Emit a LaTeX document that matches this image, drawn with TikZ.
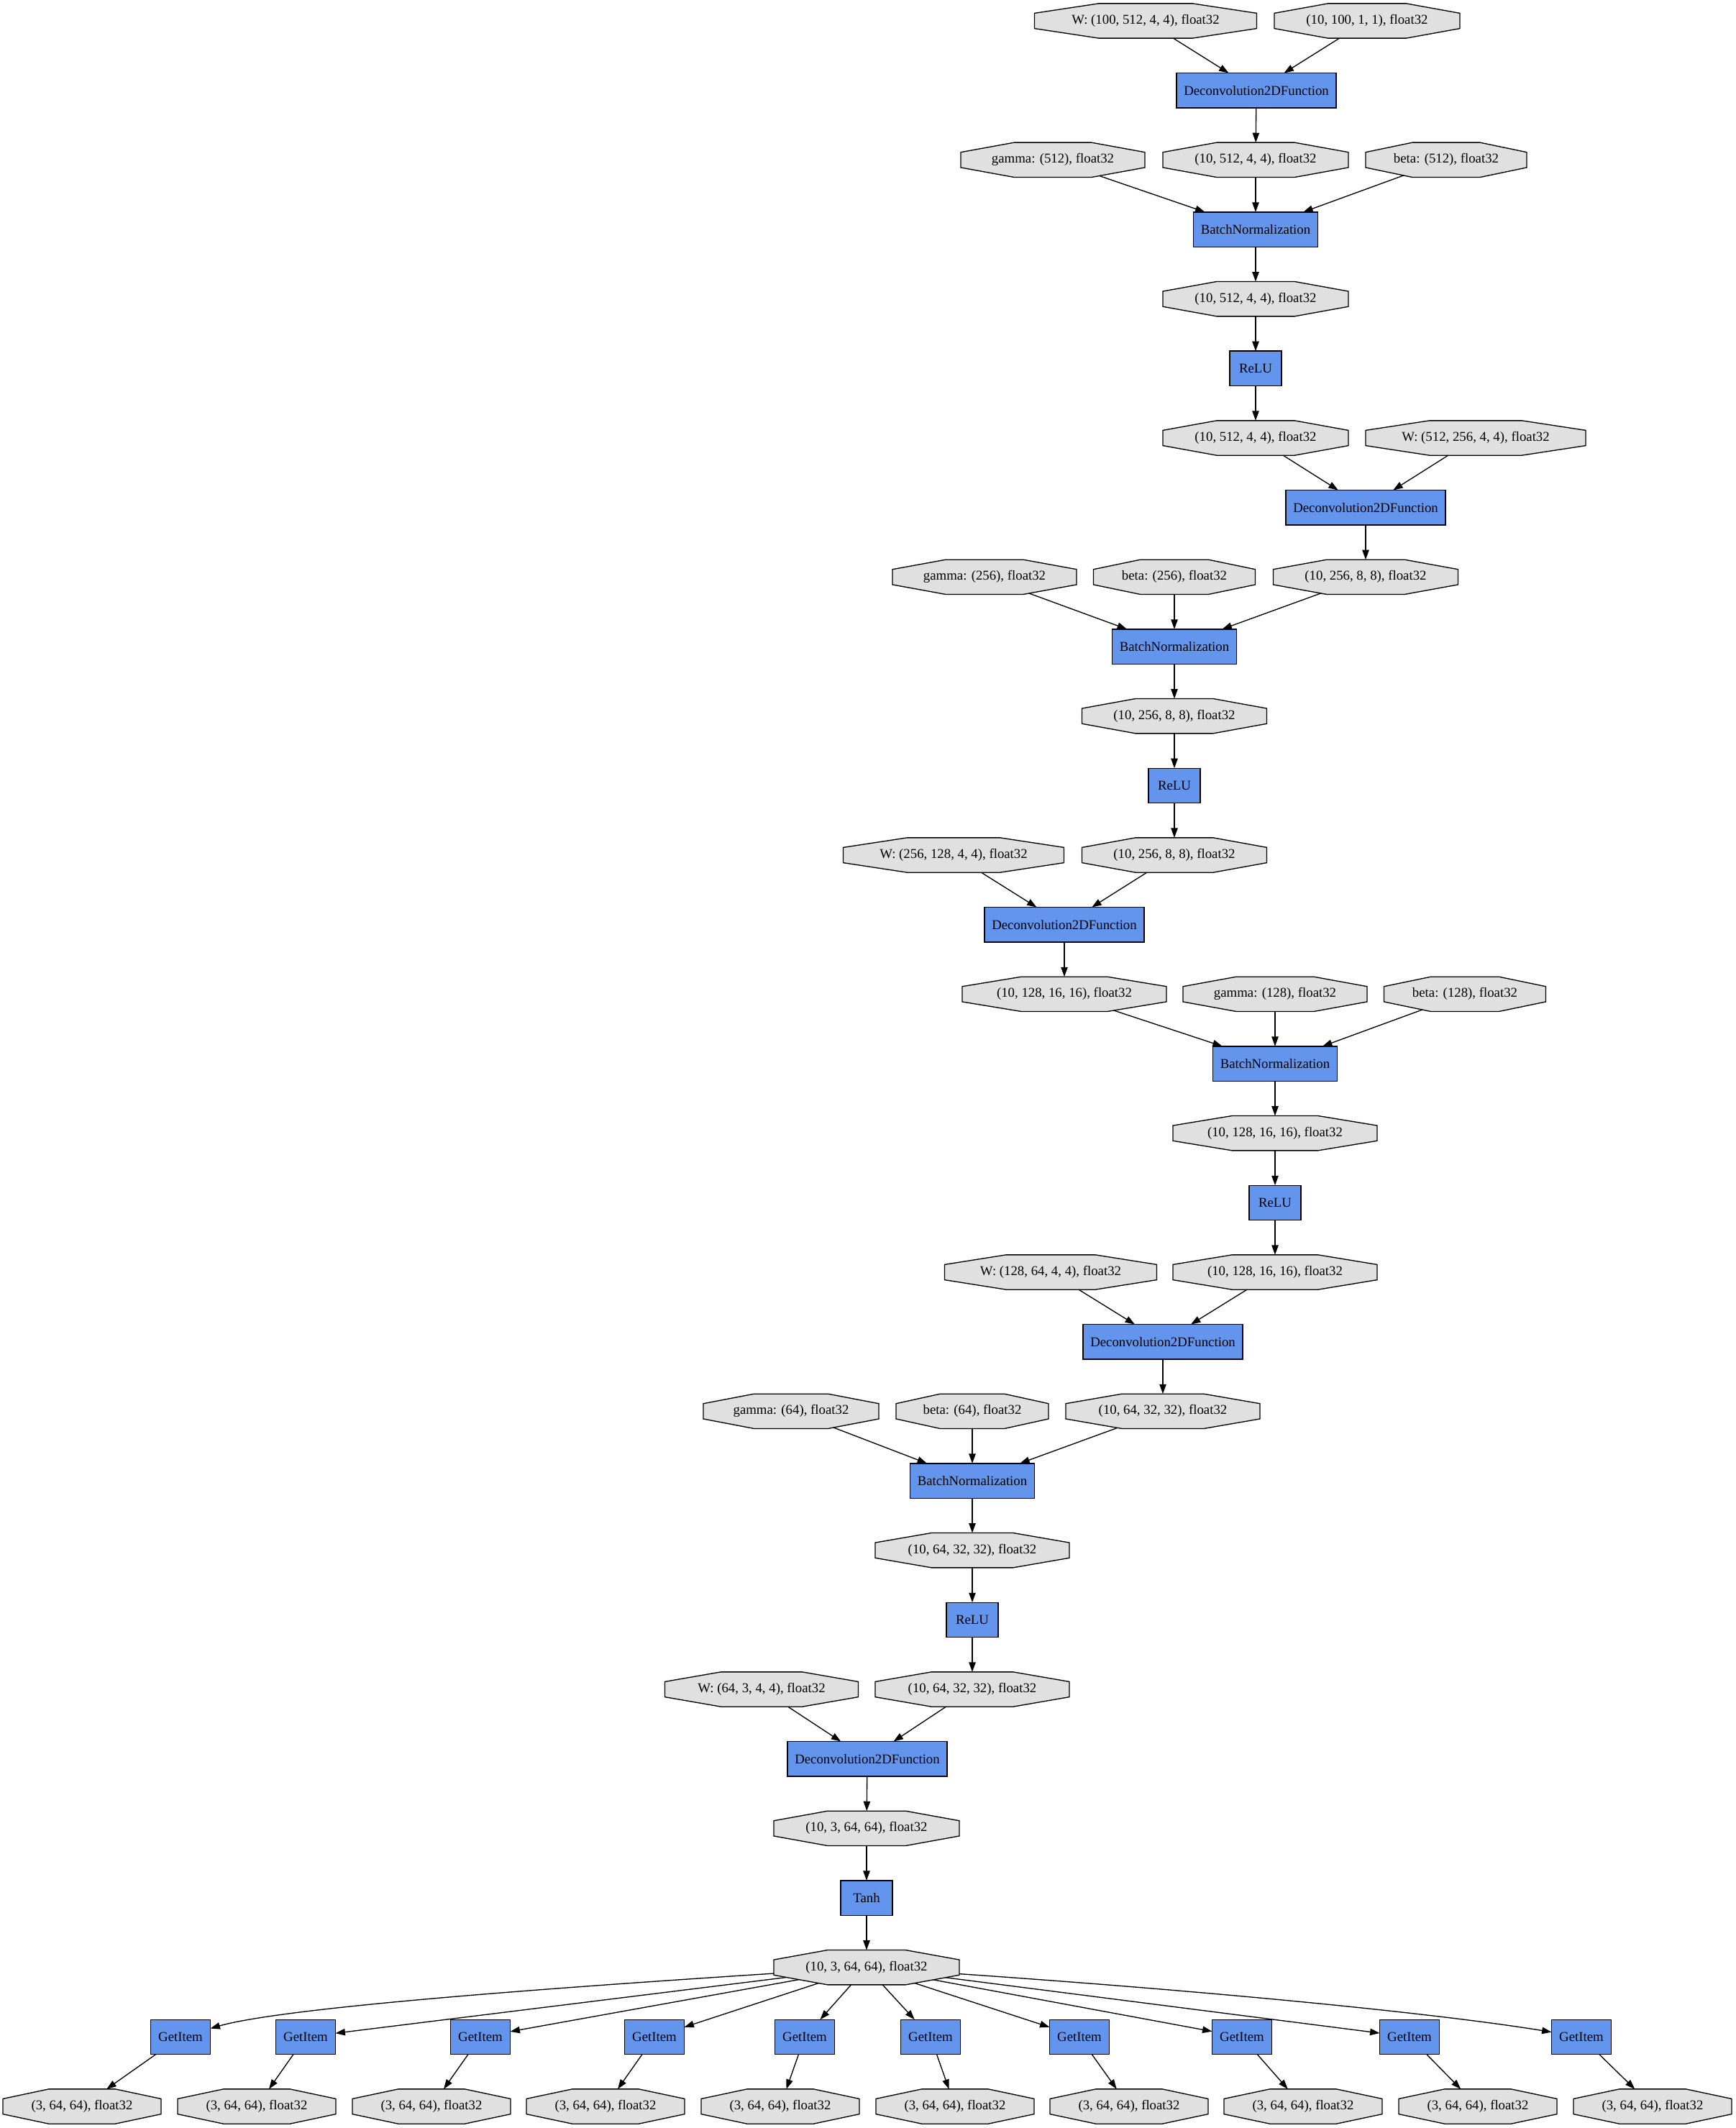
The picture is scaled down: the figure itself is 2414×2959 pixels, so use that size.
\documentclass[tikz,border=0pt]{standalone}
\usepackage{fontspec}
\setmainfont{Liberation Serif}
\usetikzlibrary{arrows.meta}
\definecolor{octfill}{HTML}{E0E0E0}
\definecolor{fnfill}{HTML}{6495ED}
\newdimen\gvxa \newdimen\gvya \newdimen\gvxb \newdimen\gvyb
\newdimen\gvcx \newdimen\gvcy
\makeatletter
\pgfdeclareshape{gvoct}{%
  \inheritsavedanchors[from=rectangle]%
  \inheritanchor[from=rectangle]{center}%
  \inheritanchor[from=rectangle]{north}%
  \inheritanchor[from=rectangle]{south}%
  \inheritanchor[from=rectangle]{east}%
  \inheritanchor[from=rectangle]{west}%
  \backgroundpath{%
    \southwest \gvxa=\pgf@x \gvya=\pgf@y
    \northeast \gvxb=\pgf@x \gvyb=\pgf@y
    \gvcx=\gvxb \advance\gvcx by -\gvxa \gvcx=0.29\gvcx
    \gvcy=\gvyb \advance\gvcy by -\gvya \gvcy=0.28\gvcy
    \pgfpathmoveto{\pgfqpoint{\gvxa}{\dimexpr\gvya+\gvcy\relax}}%
    \pgfpathlineto{\pgfqpoint{\gvxa}{\dimexpr\gvyb-\gvcy\relax}}%
    \pgfpathlineto{\pgfqpoint{\dimexpr\gvxa+\gvcx\relax}{\gvyb}}%
    \pgfpathlineto{\pgfqpoint{\dimexpr\gvxb-\gvcx\relax}{\gvyb}}%
    \pgfpathlineto{\pgfqpoint{\gvxb}{\dimexpr\gvyb-\gvcy\relax}}%
    \pgfpathlineto{\pgfqpoint{\gvxb}{\dimexpr\gvya+\gvcy\relax}}%
    \pgfpathlineto{\pgfqpoint{\dimexpr\gvxb-\gvcx\relax}{\gvya}}%
    \pgfpathlineto{\pgfqpoint{\dimexpr\gvxa+\gvcx\relax}{\gvya}}%
    \pgfpathclose
  }%
  \anchorborder{%
    \edef\gvdx{\the\pgf@x}\edef\gvdy{\the\pgf@y}%
    \southwest \gvxa=\pgf@x \gvya=\pgf@y
    \northeast \gvxb=\pgf@x \gvyb=\pgf@y
    \pgfmathsetmacro\gvA{(\the\gvxb-\the\gvxa)/2}%
    \pgfmathsetmacro\gvB{(\the\gvyb-\the\gvya)/2}%
    \pgfmathsetmacro\gvL{veclen(\gvdx,\gvdy)+0.0001}%
    \pgfmathsetmacro\gvUx{(\gvdx)/\gvL}%
    \pgfmathsetmacro\gvUy{(\gvdy)/\gvL}%
    \pgfmathsetmacro\gvX{max(abs(\gvUx),0.01)}%
    \pgfmathsetmacro\gvY{max(abs(\gvUy),0.01)}%
    \pgfmathsetmacro\gvT{min(\gvA/\gvX,\gvB/\gvY,(0.8152*\gvA*\gvB)/(0.56*\gvB*\gvX+0.58*\gvA*\gvY))}%
    \pgfmathsetmacro\gvPx{(\the\gvxa+\the\gvxb)/2+\gvT*\gvUx}%
    \pgfmathsetmacro\gvPy{(\the\gvya+\the\gvyb)/2+\gvT*\gvUy}%
    \pgf@x=\gvPx pt\relax
    \pgf@y=\gvPy pt\relax
  }%
}
\makeatother
\begin{document}
\begin{tikzpicture}[x=0.7448pt,y=-0.7448pt,
  font=\fontsize{14}{16}\selectfont,
  oct/.style={shape=gvoct, minimum width=#1*0.7448pt,
    minimum height=36pt, inner sep=0pt, outer sep=0pt, draw=black, fill=octfill, line width=1pt},
  fn/.style={rectangle, minimum width=#1*0.7448pt, minimum height=36pt,
    inner sep=0pt, outer sep=0pt, draw=black, fill=fnfill, line width=1pt},
  conn/.style={line width=1pt, -{Triangle[length=10pt,width=7pt]}}
]
\useasboundingbox (0,0) rectangle (2414,2959);
% row 0-1
\node[oct=309] (w0) at (1593,29) {W: (100, 512, 4, 4), float32};
\node[oct=258] (x0) at (1901,29) {(10, 100, 1, 1), float32};
\node[fn=222] (d1) at (1747,125.67) {Deconvolution2DFunction};
% row 2-5
\node[oct=256] (gm2) at (1464,222.33) {gamma: (512), float32};
\node[oct=258] (v2) at (1746,222.33) {(10, 512, 4, 4), float32};
\node[oct=224] (b2) at (2011,222.33) {beta: (512), float32};
\node[fn=173] (bn3) at (1746,319) {BatchNormalization};
\node[oct=258] (v4) at (1746,415.67) {(10, 512, 4, 4), float32};
\node[fn=72] (r5) at (1746,512.33) {ReLU};
% row 6-11
\node[oct=258] (v6) at (1746,609) {(10, 512, 4, 4), float32};
\node[oct=306] (w6) at (2052,609) {W: (512, 256, 4, 4), float32};
\node[fn=222] (d7) at (1899,705.67) {Deconvolution2DFunction};
\node[oct=256] (gm8) at (1369,802.33) {gamma: (256), float32};
\node[oct=225] (b8) at (1633,802.33) {beta: (256), float32};
\node[oct=257] (v8) at (1899,802.33) {(10, 256, 8, 8), float32};
\node[fn=173] (bn9) at (1633,899) {BatchNormalization};
\node[oct=257] (v10) at (1633,995.67) {(10, 256, 8, 8), float32};
\node[fn=72] (r11) at (1633,1092.33) {ReLU};
% row 12-17
\node[oct=307] (w12) at (1326,1189) {W: (256, 128, 4, 4), float32};
\node[oct=257] (v12) at (1633,1189) {(10, 256, 8, 8), float32};
\node[fn=222] (d13) at (1480,1285.67) {Deconvolution2DFunction};
\node[oct=284] (v14) at (1480,1382.33) {(10, 128, 16, 16), float32};
\node[oct=256] (gm14) at (1773,1382.33) {gamma: (128), float32};
\node[oct=225] (b14) at (2037,1382.33) {beta: (128), float32};
\node[fn=173] (bn15) at (1773,1479) {BatchNormalization};
\node[oct=284] (v16) at (1773,1575.67) {(10, 128, 16, 16), float32};
\node[fn=72] (r17) at (1773,1672.33) {ReLU};
% row 18-23
\node[oct=295] (w18) at (1461,1769) {W: (128, 64, 4, 4), float32};
\node[oct=284] (v18) at (1773,1769) {(10, 128, 16, 16), float32};
\node[fn=222] (d19) at (1617,1865.67) {Deconvolution2DFunction};
\node[oct=244] (gm20) at (1100,1962.33) {gamma: (64), float32};
\node[oct=212] (b20) at (1352,1962.33) {beta: (64), float32};
\node[oct=270] (v20) at (1617,1962.33) {(10, 64, 32, 32), float32};
\node[fn=173] (bn21) at (1352,2059) {BatchNormalization};
\node[oct=270] (v22) at (1352,2155.67) {(10, 64, 32, 32), float32};
\node[fn=72] (r23) at (1352,2252.33) {ReLU};
% row 24-28
\node[oct=269] (w24) at (1059,2349) {W: (64, 3, 4, 4), float32};
\node[oct=270] (v24) at (1352,2349) {(10, 64, 32, 32), float32};
\node[fn=222] (d25) at (1206,2445.67) {Deconvolution2DFunction};
\node[oct=258] (v26) at (1205,2542.33) {(10, 3, 64, 64), float32};
\node[fn=72] (t27) at (1205,2639) {Tanh};
\node[oct=258] (v28) at (1205,2735.67) {(10, 3, 64, 64), float32};
% edges
\draw[conn] (w0) -- (d1);
\draw[conn] (x0) -- (d1);
\draw[conn] (d1) -- (v2);
\draw[conn] (gm2) -- (bn3);
\draw[conn] (v2) -- (bn3);
\draw[conn] (b2) -- (bn3);
\draw[conn] (bn3) -- (v4);
\draw[conn] (v4) -- (r5);
\draw[conn] (r5) -- (v6);
\draw[conn] (v6) -- (d7);
\draw[conn] (w6) -- (d7);
\draw[conn] (d7) -- (v8);
\draw[conn] (gm8) -- (bn9);
\draw[conn] (b8) -- (bn9);
\draw[conn] (v8) -- (bn9);
\draw[conn] (bn9) -- (v10);
\draw[conn] (v10) -- (r11);
\draw[conn] (r11) -- (v12);
\draw[conn] (w12) -- (d13);
\draw[conn] (v12) -- (d13);
\draw[conn] (d13) -- (v14);
\draw[conn] (v14) -- (bn15);
\draw[conn] (gm14) -- (bn15);
\draw[conn] (b14) -- (bn15);
\draw[conn] (bn15) -- (v16);
\draw[conn] (v16) -- (r17);
\draw[conn] (r17) -- (v18);
\draw[conn] (w18) -- (d19);
\draw[conn] (v18) -- (d19);
\draw[conn] (d19) -- (v20);
\draw[conn] (gm20) -- (bn21);
\draw[conn] (b20) -- (bn21);
\draw[conn] (v20) -- (bn21);
\draw[conn] (bn21) -- (v22);
\draw[conn] (v22) -- (r23);
\draw[conn] (r23) -- (v24);
\draw[conn] (w24) -- (d25);
\draw[conn] (v24) -- (d25);
\draw[conn] (d25) -- (v26);
\draw[conn] (v26) -- (t27);
\draw[conn] (t27) -- (v28);
% GetItem fan-out
\foreach \i/\gx/\ox in {1/251/114, 2/425/357, 3/668/600, 4/910/842, 5/1119/1085,
  6/1294/1328, 7/1501/1570, 8/1727/1812, 9/1960/2055, 10/2199/2298} {
  \node[fn=83] (gi\i) at (\gx,2832.33) {GetItem};
  \node[oct=220] (o\i) at (\ox,2929) {(3, 64, 64), float32};
  \draw[conn] (gi\i) -- (o\i);
}
\draw[conn] (v28) .. controls (800,2762) and (400,2790) .. (gi1);
\foreach \i in {2,...,9} {\draw[conn] (v28) -- (gi\i);}
\draw[conn] (v28) .. controls (1700,2770) and (2000,2800) .. (gi10);
\end{tikzpicture}
\end{document}
